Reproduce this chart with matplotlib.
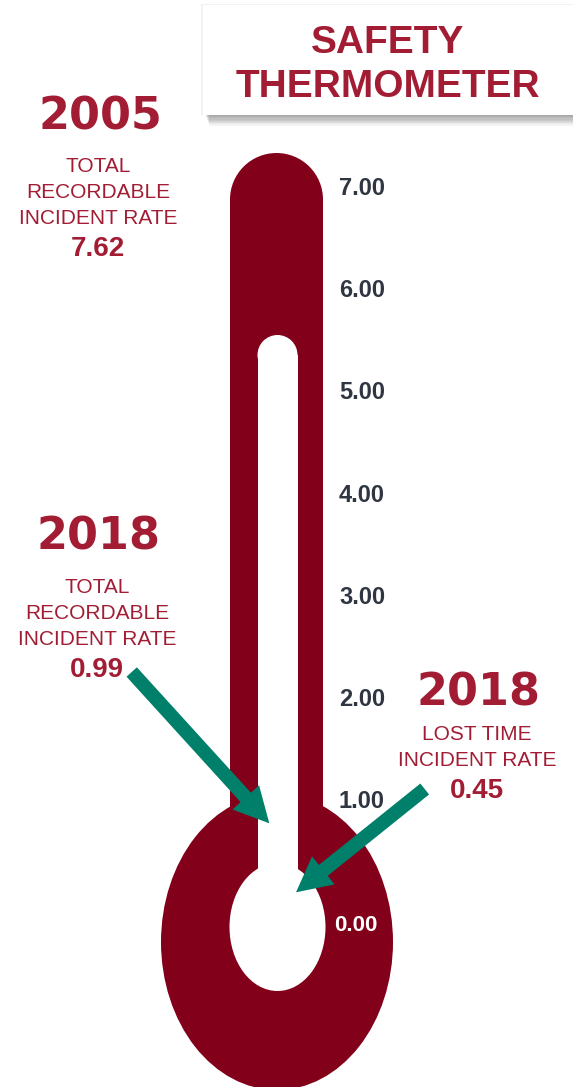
import matplotlib
matplotlib.use("Agg")
import matplotlib.pyplot as plt
from matplotlib.patches import Rectangle, Circle, Ellipse, FancyArrow

# data
years = ["2005", "2018", "2018"]
labels = ["TOTAL\nRECORDABLE\nINCIDENT RATE",
          "TOTAL\nRECORDABLE\nINCIDENT RATE",
          "LOST TIME\nINCIDENT RATE"]
rates = [7.62, 0.99, 0.45]
tick_values = [7, 6, 5, 4, 3, 2, 1, 0]
title = ["SAFETY", "THERMOMETER"]

RED = "#a21d34"
DARK = "#820019"
TEAL = "#00806b"
GREY = "#2f3541"

fig = plt.figure(figsize=(5.73, 10.87), dpi=100)
ax = fig.add_axes([0, 0, 1, 1])
ax.set_xlim(0, 573)
ax.set_ylim(1087, 0)
ax.axis("off")

# title box with soft shadow underneath
for i in range(9):
    ax.add_patch(Rectangle((205 + i * 0.5, 6 + i * 1.2), 400, 110,
                           facecolor="black", alpha=0.045, lw=0))
ax.add_patch(Rectangle((201, 4), 400, 111, facecolor="#f2f2f2", lw=0))
ax.add_patch(Rectangle((203, 5), 400, 110, facecolor="white", lw=0))
ax.text(388, 53, title[0], ha="center", va="baseline", color=RED,
        fontsize=28, fontweight="bold", family="Liberation Sans")
ax.text(388, 97, title[1], ha="center", va="baseline", color=RED,
        fontsize=28, fontweight="bold", family="Liberation Sans")

# thermometer
ax.add_patch(Ellipse((277, 942), 232, 296, facecolor=DARK, lw=0))
ax.add_patch(Rectangle((230, 199.5), 93, 700, facecolor=DARK, lw=0))
ax.add_patch(Circle((276.5, 199.5), 46.5, facecolor=DARK, lw=0))
ax.add_patch(Ellipse((277.5, 927), 96, 128, facecolor="white", lw=0))
ax.add_patch(Rectangle((257.5, 355), 40, 572, facecolor="white", lw=0))
ax.add_patch(Circle((277.5, 355), 20, facecolor="white", lw=0))

# scale
y7, step = 195, 102.2
for v in tick_values:
    if v == 0:
        ax.text(334, 931, f"{v:.2f}", ha="left", va="baseline", color="white",
                fontsize=16, fontweight="bold", family="Liberation Sans")
    else:
        ax.text(339, y7 + (7 - v) * step, f"{v:.2f}", ha="left", va="baseline",
                color=GREY, fontsize=17, fontweight="bold", family="Liberation Sans")

# annotation blocks
anchors = [(98, 129), (97, 550), (477, 705)]
for (x, y), yr, lab, r in zip(anchors, years, labels, rates):
    ax.text(x + 2, y, yr, ha="center", va="baseline", color=RED,
            fontsize=32, fontweight="bold", family="DejaVu Sans")
    lines = lab.split("\n")
    yy = y + 43 if len(lines) == 3 else y + 35
    for ln in lines:
        ax.text(x, yy, ln, ha="center", va="baseline", color=RED,
                fontsize=15, family="Liberation Sans")
        yy += 26
    ax.text(x, yy + 6, f"{r:.2f}", ha="center", va="baseline", color=RED,
            fontsize=20, fontweight="bold", family="Liberation Sans")

# arrows
for (x0, y0), (x1, y1) in [((131.7, 672), (269.3, 823.3)),
                           ((424.7, 789), (296, 892.3))]:
    ax.add_patch(FancyArrow(x0, y0, x1 - x0, y1 - y0, width=14, head_width=36,
                            head_length=35, length_includes_head=True,
                            facecolor=TEAL, lw=0))

fig.savefig("out.png", dpi=100)
